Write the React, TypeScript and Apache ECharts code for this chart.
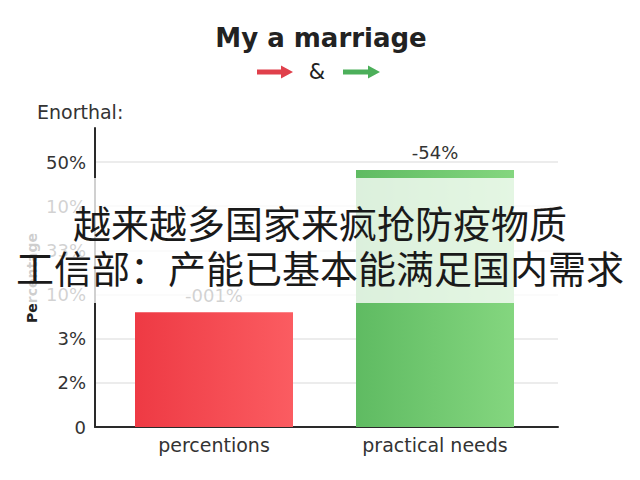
import { useEffect, useRef } from 'react';
import * as echarts from 'echarts';

// chart data
const categories = ['percentions', 'practical needs'];
const barValues = [2.6, 5.82];
const valueLabels = ['-001%', '-54%'];
const yTickLabels = ['0', '2%', '3%', '10%', '33%', '10%', '50%'];

// texts
const titleText = 'My a marriage';
const ampText = '&';
const unitText = 'Enorthal:';
const yAxisTitle = 'Percentage';
const captionLines = ['越来越多国家来疯抢防疫物质', '工信部：产能已基本能满足国内需求'];

const LATIN = '"DejaVu Sans", "Open Sans", sans-serif';
const CJK = '"Noto Sans CJK SC", sans-serif';

const barColors = [
  new echarts.graphic.LinearGradient(0, 0, 1, 0, [
    { offset: 0, color: '#ee3a44' },
    { offset: 1, color: '#fb5c61' },
  ]),
  new echarts.graphic.LinearGradient(0, 0, 1, 0, [
    { offset: 0, color: '#5fbb62' },
    { offset: 1, color: '#84d67f' },
  ]),
];

function arrow(x0: number, x1: number, y: number, color: string) {
  const headStart = x1 - 12;
  return {
    type: 'polygon',
    z: 10,
    shape: {
      points: [
        [x0, y - 2.5],
        [headStart, y - 2.5],
        [headStart, y - 6.5],
        [x1, y],
        [headStart, y + 6.5],
        [headStart, y + 2.5],
        [x0, y + 2.5],
      ],
    },
    style: { fill: color },
  };
}

export default function App() {
  const chartRef = useRef<HTMLDivElement>(null);

  useEffect(() => {
    document.body.style.margin = '0';
    if (!chartRef.current) return;
    const chart = echarts.init(chartRef.current, null, { renderer: 'svg' });

    chart.setOption({
      animation: false,
      backgroundColor: '#ffffff',
      grid: [
        // axis line only (extends above the top tick)
        { left: 95, right: 82, top: 128, bottom: 53 },
        // tick labels, grid lines, x axis line
        { left: 95, right: 82, top: 162, bottom: 53 },
        // bars
        { left: 103.5, right: 94.5, top: 162, bottom: 53 },
      ],
      xAxis: [
        { gridIndex: 0, type: 'value', show: false, min: 0, max: 1 },
        {
          gridIndex: 1,
          type: 'value',
          min: 0,
          max: 1,
          axisLine: { show: true, lineStyle: { color: '#2a2a2a', width: 2 } },
          axisTick: { show: false },
          axisLabel: { show: false },
          splitLine: { show: false },
        },
        {
          gridIndex: 2,
          type: 'category',
          data: categories,
          axisLine: { show: false },
          axisTick: { show: false },
          axisLabel: { color: '#333', fontSize: 19, fontFamily: LATIN, margin: 8 },
        },
      ],
      yAxis: [
        {
          gridIndex: 0,
          type: 'value',
          min: 0,
          max: 1,
          axisLine: { show: true, lineStyle: { color: '#2a2a2a', width: 2 } },
          axisTick: { show: false },
          axisLabel: { show: false },
          splitLine: { show: false },
        },
        {
          gridIndex: 1,
          type: 'value',
          min: 0,
          max: 6,
          interval: 1,
          axisLine: { show: false },
          axisTick: { show: false },
          axisLabel: {
            color: '#333',
            fontSize: 18,
            fontFamily: LATIN,
            margin: 9,
            formatter: (v: number) => yTickLabels[v] ?? '',
          },
          splitLine: { lineStyle: { color: '#e6e6e6', width: 1.5 } },
        },
        { gridIndex: 2, type: 'value', min: 0, max: 6, show: false },
      ],
      series: [
        {
          type: 'bar',
          xAxisIndex: 2,
          yAxisIndex: 2,
          barWidth: 158,
          data: barValues.map((v, i) => ({ value: v, itemStyle: { color: barColors[i] } })),
          label: {
            show: true,
            position: 'top',
            distance: 8,
            color: '#333',
            fontSize: 18,
            fontFamily: LATIN,
            formatter: (p: any) => valueLabels[p.dataIndex],
          },
        },
      ],
      graphic: [
        {
          type: 'text',
          x: 321,
          y: 38,
          z: 10,
          style: {
            text: titleText,
            font: `bold 26px ${LATIN}`,
            fill: '#222',
            align: 'center',
            verticalAlign: 'middle',
          },
        },
        arrow(257, 293, 72, '#e0404b'),
        {
          type: 'text',
          x: 317,
          y: 72,
          z: 10,
          style: {
            text: ampText,
            font: `21px ${LATIN}`,
            fill: '#222',
            align: 'center',
            verticalAlign: 'middle',
          },
        },
        arrow(343, 380, 72, '#4caf5a'),
        {
          type: 'text',
          x: 37,
          y: 112,
          z: 10,
          style: {
            text: unitText,
            font: `19px ${LATIN}`,
            fill: '#333',
            align: 'left',
            verticalAlign: 'middle',
          },
        },
        {
          type: 'text',
          x: 32,
          y: 278,
          rotation: Math.PI / 2,
          z: 10,
          style: {
            text: yAxisTitle,
            font: `bold 14px ${LATIN}`,
            fill: '#222',
            align: 'center',
            verticalAlign: 'middle',
          },
        },
        // translucent caption band
        {
          type: 'rect',
          z: 50,
          shape: { x: 0, y: 178, width: 640, height: 125 },
          style: { fill: 'rgba(255,255,255,0.78)' },
        },
        ...captionLines.map((line, i) => ({
          type: 'text',
          x: 320,
          y: 221 + i * 45,
          z: 51,
          style: {
            text: line,
            font: `38px ${CJK}`,
            fill: '#1a1a1a',
            align: 'center',
            verticalAlign: 'middle',
          },
        })),
      ],
    });

    return () => {
      chart.dispose();
    };
  }, []);

  return <div ref={chartRef} style={{ width: 640, height: 480 }} />;
}
